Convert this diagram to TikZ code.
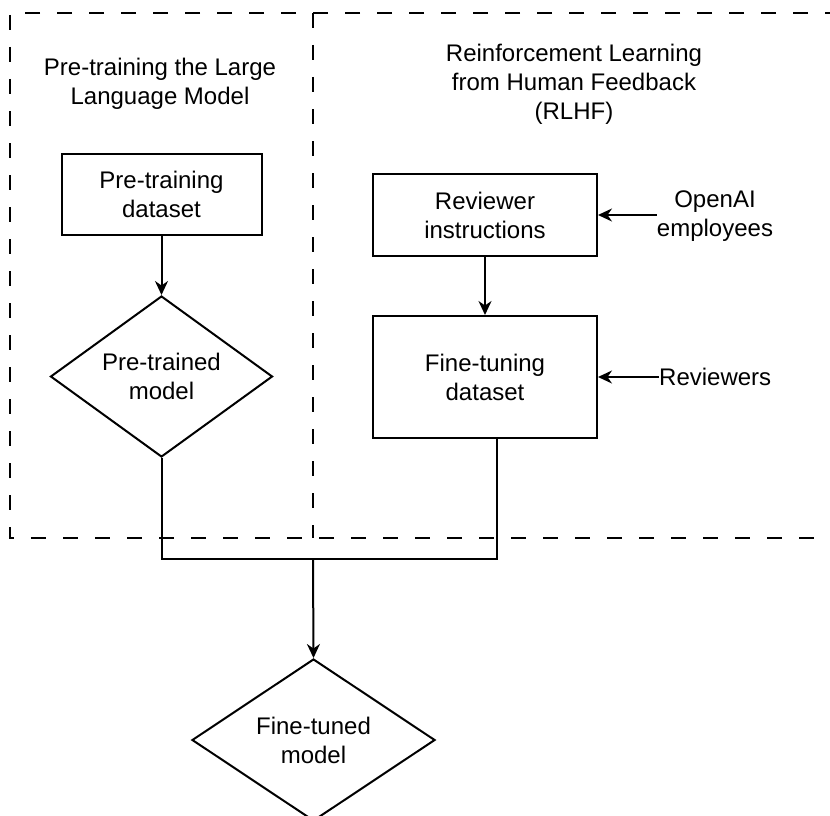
\documentclass[tikz,border=0pt]{standalone}
\usepackage{fontspec}
\setmainfont{Liberation Sans}
\usetikzlibrary{arrows.meta,shapes.geometric}
\begin{document}
\begin{tikzpicture}[x=1pt,y=-1pt,
  every node/.style={font=\fontsize{24}{29}\selectfont, align=center, inner sep=0pt},
  stepbox/.style={draw, line width=2pt, rectangle},
  decision/.style={draw, line width=2pt, diamond, aspect=1.4},
  link/.style={line width=2pt},
  arr/.style={link, -{Stealth[length=14pt,width=13pt,inset=4.5pt]}},
  region/.style={line width=2pt, dash pattern=on 15pt off 17pt}]
\useasboundingbox (0,0) rectangle (830,816);

% dashed frames of the two stages
\draw[region] (840,13) -- (10,13) -- (10,538) -- (840,538);
\draw[region] (313,13) -- (313,538);

% stage titles
\node (t1) at (160,84) {Pre-training the Large\\Language Model};
\node (t2) at (574,84) {Reinforcement Learning\\from Human Feedback\\(RLHF)};

% steps
\node[stepbox, minimum width=200pt, minimum height=81pt] (ptd) at (161.5,194.5) {Pre-training\\dataset};
\node[decision, minimum width=222pt, minimum height=161pt] (ptm) at (161.5,376.5) {Pre-trained\\model};
\node[stepbox, minimum width=224pt, minimum height=82pt] (ri) at (485,215) {Reviewer\\instructions};
\node[stepbox, minimum width=224pt, minimum height=122pt] (ftd) at (485,377) {Fine-tuning\\dataset};
\node[decision, minimum width=243pt, minimum height=162pt] (ftm) at (313.5,740) {Fine-tuned\\model};
\node (oai) at (715,216) {OpenAI\\employees};
\node[anchor=west] (rev) at (659,377) {Reviewers};
\coordinate (join) at (313,559);

% connectors
\draw[arr] (ptd) -- (ptm);
\draw[arr] (ri) -- (ftd);
\draw[arr] (oai.west |- ri.east) -- (ri.east);
\draw[arr] (rev.west) -- (rev.west -| ftd.east);
\draw[link] (ptm.south) |- (join);
\draw[link] ([xshift=12pt]ftd.south) |- (join);
\draw[arr] (join) -- (ftm.north);
\end{tikzpicture}
\end{document}
